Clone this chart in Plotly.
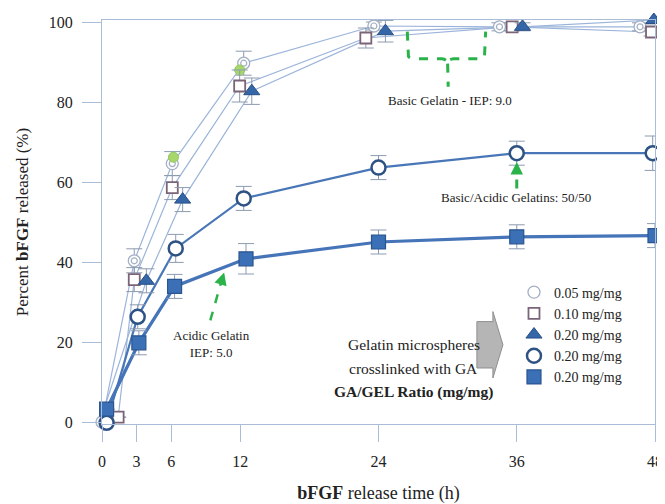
import plotly.graph_objects as go

# ---------------- data ----------------
x_005 = [0, 2.8, 6.1, 12.3, 23.6, 34.5, 46.7]
y_005 = [0, 40.3, 64.6, 89.7, 99.0, 98.8, 98.8]
e_005 = [0, 3, 3, 3, 1, 1, 1]

x_010 = [1.4, 2.8, 6.1, 11.95, 22.9, 35.6, 47.7]
y_010 = [1.2, 35.6, 58.6, 84.0, 96.0, 98.8, 97.5]
e_010 = [0, 3, 3, 4, 2.5, 1, 1]

x_020a = [-0.2, 3.85, 7.0, 13.0, 24.6, 36.5, 47.9]
y_020a = [0, 35.3, 55.6, 82.7, 97.7, 98.8, 100.5]
e_020a = [0, 3, 3, 3.3, 2.7, 1, 1]

x_020b = [0.4, 3.1, 6.4, 12.3, 24.0, 36.0, 47.8]
y_020b = [-0.2, 26.3, 43.4, 55.9, 63.6, 67.2, 67.2]
e_020b = [0, 3, 3.5, 3, 3, 3, 4.3]

x_020c = [0.4, 3.2, 6.3, 12.5, 24.0, 36.0, 48.0]
y_020c = [3.2, 19.8, 33.9, 40.8, 45.0, 46.3, 46.6]
e_020c = [0, 3, 3, 3.8, 3, 3, 3]

x_green = [6.2, 11.95]
y_green = [66.2, 88.0]

x_ticks = [0, 3, 6, 12, 24, 36, 48]
y_ticks = [0, 20, 40, 60, 80, 100]
legend_names = ["0.05 mg/mg", "0.10 mg/mg", "0.20 mg/mg", "0.20 mg/mg", "0.20 mg/mg"]
note_lines = ["Gelatin microspheres", "crosslinked with GA", "<b>GA/GEL Ratio (mg/mg)</b>"]

FONT = "Liberation Serif"
ERRC = "#8c9bb0"
GREEN = "#2bb34a"
RING = "#a3afc4"

fig = go.Figure()

def err(vals):
    return dict(type="data", array=vals, color=ERRC, thickness=1, width=8)

# connecting lines (no legend)
for xs, ys, col, w in [
    (x_005, y_005, "#9bb4da", 1.2),
    (x_010, y_010, "#9bb4da", 1.2),
    (x_020a, y_020a, "#9bb4da", 1.2),
    (x_020b, y_020b, "#4876b6", 2.2),
    (x_020c, y_020c, "#4574b8", 3.2),
]:
    fig.add_trace(go.Scatter(x=xs, y=ys, mode="lines", line=dict(color=col, width=w),
                             showlegend=False, hoverinfo="skip", cliponaxis=False))

# 0.05 mg/mg double circle
fig.add_trace(go.Scatter(x=x_005, y=y_005, mode="markers", name=legend_names[0],
                         marker=dict(symbol="circle", size=12, color="white",
                                     line=dict(color=RING, width=1.3)),
                         error_y=err(e_005), cliponaxis=False))
fig.add_trace(go.Scatter(x=x_005, y=y_005, mode="markers", showlegend=False,
                         marker=dict(symbol="circle-open", size=6, color=RING,
                                     line=dict(color=RING, width=1.2)),
                         cliponaxis=False))
# green points
fig.add_trace(go.Scatter(x=x_green, y=y_green, mode="markers", showlegend=False,
                         marker=dict(symbol="circle", size=10, color="#a6d66c",
                                     line=dict(color="#93c85a", width=1)),
                         cliponaxis=False))
# 0.10 mg/mg open square
fig.add_trace(go.Scatter(x=x_010, y=y_010, mode="markers", name=legend_names[1],
                         marker=dict(symbol="square", size=11, color="white",
                                     line=dict(color="#7b6478", width=1.8)),
                         error_y=err(e_010), cliponaxis=False))
# 0.20 triangle
fig.add_trace(go.Scatter(x=x_020a, y=y_020a, mode="markers", name=legend_names[2],
                         marker=dict(symbol="triangle-up", size=14, color="#3566a8",
                                     line=dict(color="#284f86", width=1)),
                         error_y=err(e_020a), cliponaxis=False))
# 0.20 open circle
fig.add_trace(go.Scatter(x=x_020b, y=y_020b, mode="markers", name=legend_names[3],
                         marker=dict(symbol="circle", size=14, color="white",
                                     line=dict(color="#2d5283", width=2.5)),
                         error_y=err(e_020b), cliponaxis=False))
# 0.20 filled square
fig.add_trace(go.Scatter(x=x_020c, y=y_020c, mode="markers", name=legend_names[4],
                         marker=dict(symbol="square", size=14, color="#3b6fb6",
                                     line=dict(color="#2b5590", width=1.2)),
                         error_y=err(e_020c), cliponaxis=False))

# ---------------- decorations ----------------
shapes = [
    # bracket for basic gelatin
    dict(type="path", xref="x", yref="y",
         path="M 26.5 97.6 L 26.6 91.4 Q 26.7 90.8 27.3 90.8 L 29.5 90.8 Q 30 90.6 30 89.6 "
              "Q 30 90.6 30.5 90.8 L 32.6 90.8 Q 33.2 90.8 33.2 91.4 L 33.3 97.6",
         line=dict(color=GREEN, width=3, dash="dash")),
    dict(type="line", xref="x", yref="y", x0=30, y0=89.6, x1=30.05, y1=83.8,
         line=dict(color=GREEN, width=3, dash="dash")),
    # dashed arrow shafts
    dict(type="line", xref="x", yref="y", x0=36, y0=58.4, x1=36, y1=63.0,
         line=dict(color=GREEN, width=3, dash="dash")),
    dict(type="line", xref="x", yref="y", x0=9.4, y0=25.4, x1=10.4, y1=35.5,
         line=dict(color=GREEN, width=2.5, dash="dash")),
    # gray block arrow
    dict(type="path", xref="x", yref="y",
         path="M 32.54 25.1 L 33.93 25.1 L 33.93 27.6 L 34.8 19.3 L 33.93 11.0 "
              "L 33.93 13.5 L 32.54 13.5 Z",
         fillcolor="#b5b5b5", line=dict(color="#8f8f8f", width=1)),
]

annotations = [
    dict(x=30.2, y=80.4, xref="x", yref="y", text="Basic Gelatin - IEP: 9.0",
         showarrow=False, font=dict(family=FONT, size=13, color="#222")),
    dict(x=35.9, y=56.2, xref="x", yref="y", text="Basic/Acidic Gelatins: 50/50",
         showarrow=False, font=dict(family=FONT, size=13, color="#222")),
    dict(x=9.5, y=19.6, xref="x", yref="y", text="Acidic Gelatin<br>IEP: 5.0",
         showarrow=False, font=dict(family=FONT, size=13, color="#222")),
    # arrow heads
    dict(x=36, y=65.0, xref="x", yref="y", text="", showarrow=True, ax=0, ay=10,
         arrowhead=2, arrowsize=1, arrowwidth=2.5, arrowcolor=GREEN, standoff=0),
    dict(x=10.6, y=37.4, xref="x", yref="y", text="", showarrow=True, ax=-3, ay=10,
         arrowhead=2, arrowsize=1, arrowwidth=2.5, arrowcolor=GREEN, standoff=0),
]
for line_text, yy in zip(note_lines, [19.3, 13.5, 7.5]):
    annotations.append(dict(x=27.05, y=yy, xref="x", yref="y", text=line_text,
                            showarrow=False, font=dict(family=FONT, size=15.5, color="#222")))

AX = "#a9bdd8"
# the page body adds an 8px offset, so the figure is 8px smaller and margins shifted
fig.update_layout(
    width=657, height=496,
    margin=dict(l=94, r=10, t=12, b=80, autoexpand=False),
    paper_bgcolor="white", plot_bgcolor="white",
    font=dict(family=FONT, color="#222"),
    shapes=shapes, annotations=annotations,
    legend=dict(x=0.745, y=0.365, xanchor="left", yanchor="top",
                font=dict(family=FONT, size=14, color="#222"),
                bgcolor="rgba(0,0,0,0)", tracegroupgap=0),
    xaxis=dict(range=[0, 48], tickmode="array", tickvals=x_ticks,
               ticktext=[str(v) for v in x_ticks], automargin=False,
               showgrid=False, zeroline=False, showline=True, linecolor=AX, linewidth=1.2,
               mirror=True, ticks="outside", ticklen=17, tickcolor=AX, tickwidth=1,
               ticklabelstandoff=6,
               tickfont=dict(family=FONT, size=16, color="#222"),
               title=dict(text="<b>bFGF</b> release time (h)", standoff=17,
                          font=dict(family=FONT, size=18, color="#222"))),
    yaxis=dict(range=[-0.5, 100.5], tickmode="array", tickvals=y_ticks,
               ticktext=[str(v) for v in y_ticks], automargin=False,
               showgrid=False, zeroline=False, showline=True, linecolor=AX, linewidth=1.2,
               mirror=True, ticks="outside", ticklen=19, tickcolor=AX, tickwidth=1,
               ticklabelstandoff=6,
               tickfont=dict(family=FONT, size=16, color="#222"),
               title=dict(text="Percent <b>bFGF</b> released (%)", standoff=15,
                          font=dict(family=FONT, size=17, color="#222"))),
)

fig.write_html("out.html")
